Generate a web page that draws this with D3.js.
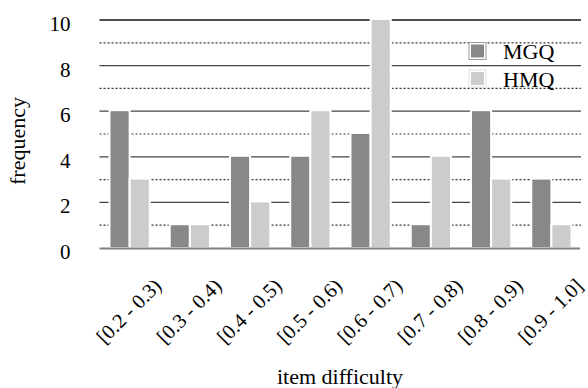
<!DOCTYPE html>
<html>
<head>
<meta charset="utf-8">
<script src="https://cdn.jsdelivr.net/npm/d3@7"></script>
<style>
  body { margin: 0; background: #fff; }
  text { font-family: "Liberation Serif", "DejaVu Serif", serif; fill: #000; }
</style>
</head>
<body>
<div id="chart"></div>
<script>
// chart values
const categories = ["[0.2 - 0.3)", "[0.3 - 0.4)", "[0.4 - 0.5)", "[0.5 - 0.6)",
                    "[0.6 - 0.7)", "[0.7 - 0.8)", "[0.8 - 0.9)", "[0.9 - 1.0]"];
const seriesNames = ["MGQ", "HMQ"];
const mgqValues = [6, 1, 4, 4, 5, 1, 6, 3];
const hmqValues = [3, 1, 2, 6, 10, 4, 3, 1];
const yTicks = [0, 2, 4, 6, 8, 10];
const yMinorTicks = [1, 3, 5, 7, 9];

const colors = {MGQ: "#888888", HMQ: "#cccccc"};

const width = 588, height = 388;
const svg = d3.select("#chart").append("svg")
    .attr("width", width)
    .attr("height", height);

// scales
let x0 = d3.scaleBand()
    .domain(categories)
    .range([99.5, 581.5]);

let x1 = d3.scaleBand()
    .domain(seriesNames)
    .range([10, x0.bandwidth() - 10]);

let y = d3.scaleLinear()
    .domain([0, 10])
    .range([248, 20]);

// dotted grid at odd values
svg.append("g").selectAll("line")
    .data(yMinorTicks).enter()
    .append("line")
    .attr("x1", 99.5).attr("x2", 581)
    .attr("y1", d => y(d)).attr("y2", d => y(d))
    .attr("stroke", "#333")
    .attr("stroke-width", 1.2)
    .attr("stroke-dasharray", "2,2");

// solid grid at even values
svg.append("g").selectAll("line")
    .data(yTicks.filter(d => d > 0)).enter()
    .append("line")
    .attr("x1", 99.5).attr("x2", 581)
    .attr("y1", d => y(d)).attr("y2", d => y(d))
    .attr("stroke", d => d === 10 ? "#111" : "#444")
    .attr("stroke-width", 1.3);

// bars
let rows = categories.map((c, i) => ({cat: c, MGQ: mgqValues[i], HMQ: hmqValues[i]}));

let groups = svg.append("g").selectAll("g")
    .data(rows).enter()
    .append("g")
    .attr("transform", d => "translate(" + x0(d.cat) + ",0)");

groups.selectAll("rect")
    .data(d => seriesNames.map(s => ({key: s, value: d[s]})))
    .enter().append("rect")
    .attr("x", d => x1(d.key))
    .attr("width", x1.bandwidth())
    .attr("y", d => y(d.value) - 1)
    .attr("height", d => y(0) - y(d.value) + 1)
    .attr("fill", d => colors[d.key])
    .attr("stroke", "#fff")
    .attr("stroke-width", 2);

// baseline
svg.append("line")
    .attr("x1", 99.5).attr("x2", 580)
    .attr("y1", y(0) + 0.5).attr("y2", y(0) + 0.5)
    .attr("stroke", "#808080")
    .attr("stroke-width", 2.2);

// y axis labels
let yAxis = svg.append("g")
    .attr("transform", "translate(99.5,0)")
    .call(d3.axisLeft(y).tickValues(yTicks).tickSize(0).tickPadding(29));
yAxis.select(".domain").remove();
yAxis.selectAll("text")
    .attr("font-size", 21)
    .attr("dy", "0.5em")
    .style("font-family", "'Liberation Serif', serif");

// x tick labels, rotated
svg.append("g").selectAll("text")
    .data(categories).enter()
    .append("text")
    .attr("transform", d => "translate(" + (x0(d) + x0.bandwidth() / 2 - 1) + ",311) rotate(-45)")
    .attr("text-anchor", "middle")
    .attr("dy", "0.35em")
    .attr("font-size", 20.5)
    .text(d => d);

// axis titles
svg.append("text")
    .attr("x", 340)
    .attr("y", 383.5)
    .attr("text-anchor", "middle")
    .attr("font-size", 22)
    .text("item difficulty");

svg.append("text")
    .attr("transform", "translate(25,141) rotate(-90)")
    .attr("text-anchor", "middle")
    .attr("font-size", 22)
    .text("frequency");

// legend
let legend = svg.append("g").selectAll("g")
    .data(seriesNames).enter()
    .append("g")
    .attr("transform", (d, i) => "translate(469," + (42.5 + i * 27.5) + ")");

legend.append("rect")
    .attr("width", 17).attr("height", 17)
    .attr("fill", "#fff")
    .attr("stroke", d => d === "MGQ" ? "#999" : "#ddd")
    .attr("stroke-width", 1);

legend.append("rect")
    .attr("x", 2).attr("y", 2)
    .attr("width", 13).attr("height", 13)
    .attr("fill", d => colors[d]);

legend.append("text")
    .attr("x", 34)
    .attr("y", 16.5)
    .attr("font-size", 22)
    .text(d => d);
</script>
</body>
</html>
